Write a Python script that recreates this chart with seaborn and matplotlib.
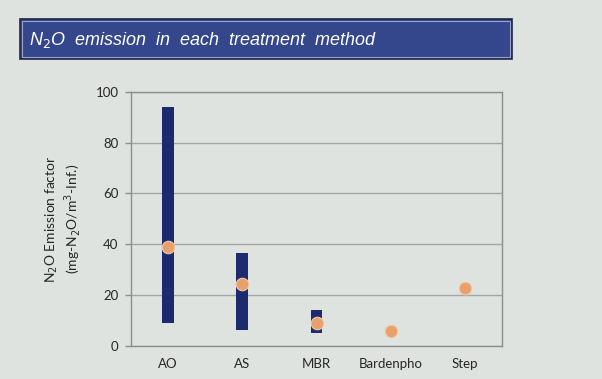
import numpy as np
import seaborn as sns
import matplotlib.pyplot as plt
from matplotlib.patches import Rectangle

methods = ["AO", "AS", "MBR", "Bardenpho", "Step"]
range_low = [8.8, 6.2, 5.1, np.nan, np.nan]
range_high = [93.9, 36.6, 13.9, np.nan, np.nan]
mean_val = [39.0, 24.2, 8.8, 5.8, 22.8]
y_ticks = [0, 20, 40, 60, 80, 100]

bg = "#dfe3df"
navy = "#1d2a6e"
orange = "#e8a06c"
txt = "#262626"

sns.set_style("white")
plt.rcParams["font.family"] = ["Lato", "DejaVu Sans"]

fig = plt.figure(figsize=(6.02, 3.79), dpi=100, facecolor=bg)
ax = fig.add_axes([131 / 602, 1 - 345.7 / 379, 371 / 602, 253.7 / 379])
ax.set_facecolor(bg)

# title banner
fig.patches.append(Rectangle((20 / 602, 1 - 59 / 379), 492 / 602, 40 / 379,
                             transform=fig.transFigure, facecolor="#34468c",
                             edgecolor="#20264a", linewidth=1.2))
fig.patches.append(Rectangle((22 / 602, 1 - 57 / 379), 488 / 602, 36 / 379,
                             transform=fig.transFigure, facecolor="none",
                             edgecolor="#9aa4c8", linewidth=0.8))
fig.text(29 / 602, 1 - 40 / 379, r"N$_2$O  emission  in  each  treatment  method",
         color="white", fontsize=13, style="italic", va="center", ha="left",
         family=["Liberation Sans", "DejaVu Sans"])

x = np.arange(len(methods))
heights = np.array(range_high) - np.array(range_low)
ax.bar(x, heights, bottom=range_low, width=0.16, color=navy, edgecolor=navy,
       linewidth=0, zorder=2)
sns.stripplot(x=methods, y=mean_val, ax=ax, jitter=False, color=orange, size=9,
              edgecolor="#f3c8a4", linewidth=0.8, zorder=3)

ax.set_ylim(0, 100)
ax.set_xlim(-0.5, 4.5)
ax.set_yticks(y_ticks)
ax.set_xticks(x)
ax.set_xticklabels(methods)
ax.set_xticks(np.arange(-0.5, 5, 1), minor=True)
ax.yaxis.grid(True, color="#a3a6a3", linewidth=1, zorder=0)
ax.set_axisbelow(True)
for s in ax.spines.values():
    s.set_color("#8c8f8c")
    s.set_linewidth(1)
ax.tick_params(axis="x", which="major", length=0, pad=9, labelsize=9.5, labelcolor=txt)
ax.tick_params(axis="x", which="minor", length=4, width=1, color="#8c8f8c", direction="out")
ax.tick_params(axis="y", length=4, width=1, color="#8c8f8c", direction="out", pad=5,
               labelsize=9.5, labelcolor=txt, left=True)

ax.set_ylabel("N$_2$O Emission factor\n(mg-N$_2$O/m$^3$-Inf.)", fontsize=10,
              color=txt, labelpad=9, linespacing=1.1)

fig.savefig("out.png", dpi=100, facecolor=bg)
